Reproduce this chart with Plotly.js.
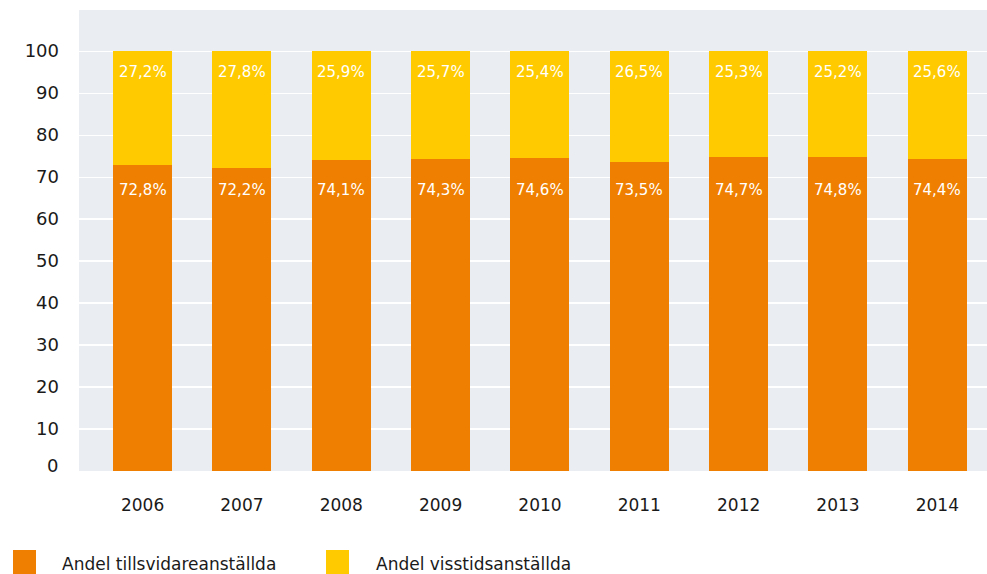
<!DOCTYPE html>
<html>
<head>
<meta charset="utf-8">
<script src="https://cdn.plot.ly/plotly-3.0.1.min.js"></script>
<style>html,body{margin:0;padding:0;background:#fff}#chart{width:987px;height:574px}</style>
</head>
<body>
<div id="chart"></div>
<script>
var years = ["2006","2007","2008","2009","2010","2011","2012","2013","2014"];
var tillsvidare = [72.8, 72.2, 74.1, 74.3, 74.6, 73.5, 74.7, 74.8, 74.4];
var visstid = [27.2, 27.8, 25.9, 25.7, 25.4, 26.5, 25.3, 25.2, 25.6];
var yTicks = [10, 20, 30, 40, 50, 60, 70, 80, 90, 100];
var seriesNames = ["Andel tillsvidareanställda", "Andel visstidsanställda"];

var ORANGE = "#ef7f00", YELLOW = "#ffcb00", BG = "#eaedf2";
var FONT = "'DejaVu Sans', sans-serif";
var TEXT = "#1a1a1a";
var LABEL_LEVEL_TOP = 95, LABEL_LEVEL_BOTTOM = 67;

function fmt(v){ return v.toFixed(1).replace('.', ',') + '%'; }

var traces = [
  {type:'bar', x:years, y:tillsvidare, name:seriesNames[0], marker:{color:ORANGE}, width:0.594, hoverinfo:'none'},
  {type:'bar', x:years, y:visstid, name:seriesNames[1], marker:{color:YELLOW}, width:0.594, hoverinfo:'none'}
];

var annotations = [];
years.forEach(function(yr, i){
  annotations.push({x:i, y:LABEL_LEVEL_TOP, xref:'x', yref:'y', text:fmt(visstid[i]), showarrow:false,
    font:{family:FONT, size:15, color:'#ffffff'}});
  annotations.push({x:i, y:LABEL_LEVEL_BOTTOM, xref:'x', yref:'y', text:fmt(tillsvidare[i]), showarrow:false,
    font:{family:FONT, size:15, color:'#ffffff'}});
});
annotations.push({x:0, y:0, xref:'paper', yref:'y', xanchor:'right', xshift:-19, yshift:6, text:'0', showarrow:false,
  font:{family:FONT, size:18, color:TEXT}});

// legend drawn in paper coordinates
function px2x(p){ return (p-79)/908; }
function px2y(p){ return (471-p)/461; }
var shapes = [
  {type:'rect', xref:'paper', yref:'paper', x0:px2x(13), x1:px2x(36), y0:px2y(550), y1:px2y(580), fillcolor:ORANGE, line:{width:0}},
  {type:'rect', xref:'paper', yref:'paper', x0:px2x(326), x1:px2x(349), y0:px2y(550), y1:px2y(580), fillcolor:YELLOW, line:{width:0}}
];
annotations.push({x:px2x(60), y:px2y(552), xref:'paper', yref:'paper', xanchor:'left', yanchor:'top', text:seriesNames[0], showarrow:false,
  font:{family:FONT, size:17, color:TEXT}});
annotations.push({x:px2x(374), y:px2y(552), xref:'paper', yref:'paper', xanchor:'left', yanchor:'top', text:seriesNames[1], showarrow:false,
  font:{family:FONT, size:17, color:TEXT}});

var layout = {
  width:987, height:574,
  margin:{l:79, r:0, t:10, b:103, pad:0},
  paper_bgcolor:'#ffffff', plot_bgcolor:BG,
  barmode:'stack', showlegend:false,
  font:{family:FONT, size:17, color:TEXT},
  xaxis:{type:'category', range:[-0.64, 8.5], showgrid:false, zeroline:false, showline:false, ticks:'',
    ticklabelstandoff:22, tickfont:{family:FONT, size:17, color:TEXT}, fixedrange:true},
  yaxis:{range:[0, 109.8], tickmode:'array', tickvals:yTicks, ticktext:yTicks.map(String), showgrid:true, gridcolor:'#ffffff', gridwidth:1.2,
    zeroline:false, showline:false, ticks:'', ticklabelstandoff:19, tickfont:{family:FONT, size:18, color:TEXT}, fixedrange:true},
  annotations:annotations, shapes:shapes
};

Plotly.newPlot('chart', traces, layout, {displayModeBar:false, staticPlot:true});
</script>
</body>
</html>
